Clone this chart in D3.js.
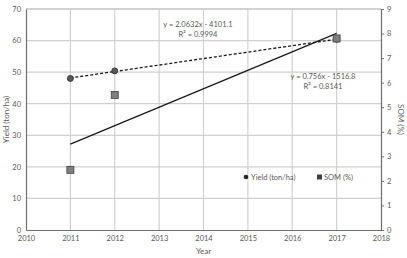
<!DOCTYPE html>
<html>
<head>
<meta charset="utf-8"/>
<script src="https://d3js.org/d3.v7.min.js"></script>
<style>
  body { margin: 0; background: #fff; }
  text { font-family: Lato, "Open Sans", sans-serif; fill: #595959; }
</style>
</head>
<body>
<script>
const years = [2011, 2012, 2017]
const yieldVals = [48.0, 50.4, 60.4]
const somVals = [2.45, 5.5, 7.8]
const xTicks = [2010, 2011, 2012, 2013, 2014, 2015, 2016, 2017, 2018]
const yLeftTicks = [0, 10, 20, 30, 40, 50, 60, 70]
const yRightTicks = [0, 1, 2, 3, 4, 5, 6, 7, 8, 9]
const yieldEq = ["y = 2.0632x - 4101.1", "R\u00b2 = 0.9994"]
const somEq = ["y = 0.756x - 1516.8", "R\u00b2 = 0.8141"]

const width = 407, height = 258
const m = {left: 26, right: 26, top: 9, bottom: 28}

const svg = d3.select("body").append("svg")
  .attr("width", width).attr("height", height)

const x = d3.scaleLinear().domain([2010, 2018]).range([m.left, width - m.right])
const yL = d3.scaleLinear().domain([0, 70]).range([height - m.bottom, m.top])
const yR = d3.scaleLinear().domain([0, 9]).range([height - m.bottom, m.top])

// grid
svg.append("g").selectAll("line").data(yLeftTicks.slice(1)).enter().append("line")
  .attr("x1", x(2010)).attr("x2", x(2018))
  .attr("y1", d => yL(d)).attr("y2", d => yL(d))
  .attr("stroke", d => d == 70 ? "#a6a6a6" : "#d0d0d0").attr("stroke-width", 1.2)
svg.append("g").selectAll("line").data(xTicks.slice(1, -1)).enter().append("line")
  .attr("x1", d => x(d)).attr("x2", d => x(d))
  .attr("y1", yL(0)).attr("y2", yL(70))
  .attr("stroke", "#d0d0d0").attr("stroke-width", 1.2)

// axes
const fs = "7.5px"
const gx = svg.append("g").attr("transform", `translate(0,${yL(0)})`)
  .call(d3.axisBottom(x).tickValues(xTicks).tickFormat(d3.format("d")).tickSize(0).tickPadding(6))
const gl = svg.append("g").attr("transform", `translate(${m.left},0)`)
  .call(d3.axisLeft(yL).tickValues(yLeftTicks).tickSize(0).tickPadding(5))
const gr = svg.append("g").attr("transform", `translate(${width - m.right},0)`)
  .call(d3.axisRight(yR).tickValues(yRightTicks).tickSize(3).tickPadding(3))
;[gx, gl, gr].forEach(g => {
  g.selectAll("text").style("font-size", fs).attr("fill", "#595959")
  g.select(".domain").attr("stroke", "#6f6f6f").attr("stroke-width", 1.2)
  g.selectAll(".tick line").attr("stroke", "#6f6f6f")
})

// trend lines (least squares)
function fit(xs, ys) {
  const mx = d3.mean(xs), my = d3.mean(ys)
  const b = d3.sum(xs, (v, i) => (v - mx) * (ys[i] - my)) / d3.sum(xs, v => (v - mx) ** 2)
  return [b, my - b * mx]
}
const fy = fit(years, yieldVals), fsom = fit(years, somVals)
const x0 = years[0], x1 = years[years.length - 1]
svg.append("line")
  .attr("x1", x(x0)).attr("x2", x(x1))
  .attr("y1", yL(fy[0] * x0 + fy[1])).attr("y2", yL(fy[0] * x1 + fy[1]))
  .attr("stroke", "#1a1a1a").attr("stroke-width", 1.3).attr("stroke-dasharray", "3,2")
svg.append("line")
  .attr("x1", x(x0)).attr("x2", x(x1))
  .attr("y1", yR(fsom[0] * x0 + fsom[1])).attr("y2", yR(fsom[0] * x1 + fsom[1]))
  .attr("stroke", "#1a1a1a").attr("stroke-width", 1.3)

// markers
svg.append("g").selectAll("circle").data(years).enter().append("circle")
  .attr("cx", d => x(d)).attr("cy", (d, i) => yL(yieldVals[i])).attr("r", 3)
  .attr("fill", "#595959").attr("stroke", "#262626").attr("stroke-width", 0.8)
svg.append("g").selectAll("rect").data(years).enter().append("rect")
  .attr("x", d => x(d) - 3.5).attr("y", (d, i) => yR(somVals[i]) - 3.5)
  .attr("width", 7).attr("height", 7)
  .attr("fill", "#7f7f7f").attr("stroke", "#404040").attr("stroke-width", 0.8)

// equations
function eq(lines, cx, cy) {
  lines.forEach((t, i) => svg.append("text").attr("x", cx).attr("y", cy + i * 10)
    .attr("text-anchor", "middle").style("font-size", "7.5px").attr("fill", "#404040").text(t))
}
eq(yieldEq, 198, 27)
eq(somEq, 323, 79)

// legend
svg.append("circle").attr("cx", 246).attr("cy", 177).attr("r", 2.3).attr("fill", "#262626")
svg.append("text").attr("x", 251).attr("y", 179.5).style("font-size", "7.5px").text("Yield (ton/ha)")
svg.append("rect").attr("x", 317).attr("y", 174.5).attr("width", 5).attr("height", 5)
  .attr("fill", "#404040")
svg.append("text").attr("x", 324).attr("y", 179.5).style("font-size", "7.5px").text("SOM (%)")

// axis titles
svg.append("text").attr("x", x(2014)).attr("y", 254).attr("text-anchor", "middle")
  .style("font-size", "8px").text("Year")
svg.append("text").attr("transform", `translate(9,${(yL(0) + yL(70)) / 2}) rotate(-90)`)
  .attr("text-anchor", "middle").style("font-size", "8px").text("Yield (ton/ha)")
svg.append("text").attr("transform", `translate(398,${(yL(0) + yL(70)) / 2}) rotate(90)`)
  .attr("text-anchor", "middle").style("font-size", "8px").text("SOM (%)")
</script>
</body>
</html>
